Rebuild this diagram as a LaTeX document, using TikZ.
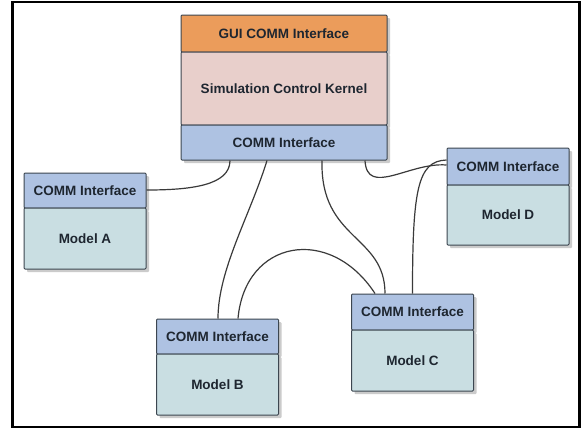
\documentclass[tikz,border=0pt]{standalone}
\usepackage{fontspec}
\setmainfont{Liberation Sans}
\usetikzlibrary{shadows}
\definecolor{guiorange}{HTML}{EB9C5B}
\definecolor{kernelpink}{HTML}{E8CFCB}
\definecolor{commblue}{HTML}{AEC2E2}
\definecolor{modelteal}{HTML}{C9DEE2}
\definecolor{boxedge}{HTML}{3C4650}
\definecolor{txt}{HTML}{1E2630}
\definecolor{wire}{HTML}{3A3A3A}
\tikzset{
  blk/.style={draw=boxedge, line width=1pt, rounded corners=1pt, inner sep=0pt,
    font=\bfseries\fontsize{13.5}{16}\selectfont, text=txt,
    drop shadow={shadow xshift=3pt, shadow yshift=-3pt, fill=black!40, opacity=0.5}},
  hdr/.style={blk, fill=commblue, minimum width=122pt, minimum height=36pt},
  body/.style={blk, fill=modelteal, minimum width=122pt, minimum height=61pt},
  wirestyle/.style={draw=wire, line width=1.2pt},
  frame/.style={draw=black, line width=2.5pt}
}
\begin{document}
\begin{tikzpicture}[x=1pt,y=-1pt]
\useasboundingbox (0,0) rectangle (581,429);
\fill[white] (0,0) rectangle (581,429);
\draw[frame] (12.5,2.2) rectangle (579.5,427);

% top block
\node[blk, fill=guiorange, minimum width=206pt, minimum height=37pt] (gui) at (284,33.5) {GUI COMM Interface};
\node[blk, fill=kernelpink, minimum width=206pt, minimum height=73pt] (kernel) at (284,88.5) {Simulation Control Kernel};
\node[blk, fill=commblue, minimum width=206pt, minimum height=35pt] (tc) at (284,142.5) {COMM Interface};

% Model A
\node[hdr, minimum height=35pt] (aH) at (85,190.5) {COMM Interface};
\node[body] (aB) at (85,238.5) {Model A};
% Model D
\node[hdr, minimum height=37pt] (dH) at (508,166.5) {COMM Interface};
\node[body, minimum height=60pt] (dB) at (508,215) {Model D};
% Model B
\node[hdr, minimum height=35pt] (bH) at (217.5,336.5) {COMM Interface};
\node[body] (bB) at (217.5,384.5) {Model B};
% Model C
\node[hdr, minimum height=36pt] (cH) at (412.5,312) {COMM Interface};
\node[body] (cB) at (412.5,360.5) {Model C};

% connectors
\draw[wirestyle] ([xshift=-54pt]tc.south) .. controls +(0,25) and +(44,0) .. ([yshift=0.5pt]aH.east);
\draw[wirestyle] ([xshift=-17pt]tc.south) .. controls +(-17,55) and +(0,-49) .. ([xshift=0.5pt]bH.north);
\draw[wirestyle] ([xshift=38pt]tc.south) .. controls +(-2,80) and +(0,-59) .. ([xshift=-27.5pt]cH.north);
\draw[wirestyle] ([xshift=20.5pt]bH.north) .. controls +(7,-79) and +(-45,-69) .. ([xshift=-37.5pt]cH.north);
\draw[wirestyle] ([xshift=81pt]tc.south) .. controls +(2,37) and +(-37,-3) .. ([yshift=1.5pt]dH.west);
\draw[wirestyle] (cH.north) .. controls +(0,-104) and +(-29,1) .. ([yshift=6.5pt]dH.west);
\end{tikzpicture}
\end{document}
